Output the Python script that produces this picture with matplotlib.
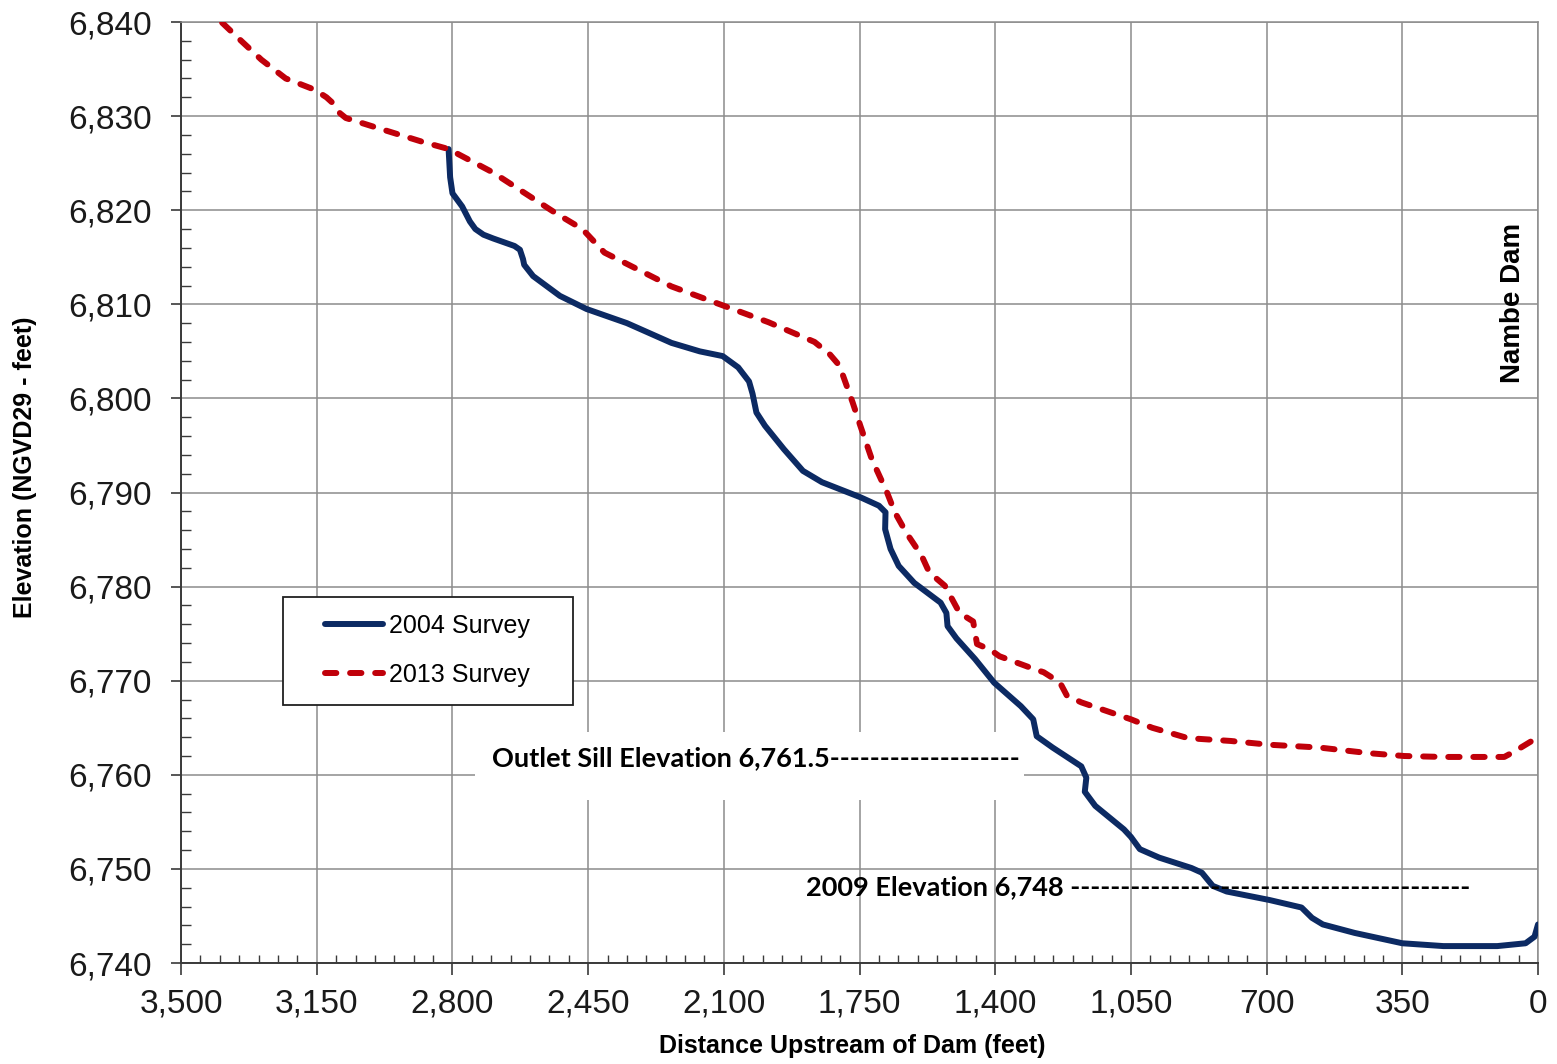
import matplotlib
matplotlib.use("Agg")
import matplotlib.pyplot as plt
from matplotlib.ticker import MultipleLocator, FuncFormatter
from matplotlib.patches import Rectangle
from matplotlib.lines import Line2D

# ---- data (distance upstream of dam in feet, elevation in feet) ----
dist_2004 = [2810, 2806, 2800, 2775, 2755, 2741, 2720, 2695, 2640, 2626, 2618, 2615,
             2592, 2523, 2454, 2350, 2235, 2162, 2103, 2063, 2035, 2026, 2016, 1994,
             1945, 1896, 1847, 1748, 1700, 1683, 1684, 1670, 1649, 1609, 1541, 1526,
             1523, 1500, 1452, 1403, 1334, 1302, 1293, 1252, 1178, 1165, 1169, 1142,
             1068, 1050, 1027, 977, 894, 867, 839, 803, 693, 610, 583, 555, 473, 350,
             244, 105, 32, 9, 0]
elev_2004 = [6826.5, 6823.5, 6821.8, 6820.4, 6818.8, 6818.0, 6817.4, 6817.0, 6816.2,
             6815.8, 6814.8, 6814.2, 6813.0, 6810.9, 6809.5, 6808.0, 6805.9, 6805.0,
             6804.5, 6803.3, 6801.8, 6800.5, 6798.5, 6797.1, 6794.6, 6792.3, 6791.1,
             6789.5, 6788.6, 6787.9, 6786.1, 6784.0, 6782.2, 6780.4, 6778.3, 6777.2,
             6775.8, 6774.5, 6772.3, 6769.8, 6767.3, 6765.9, 6764.1, 6762.9, 6760.9,
             6759.7, 6758.2, 6756.7, 6754.2, 6753.4, 6752.1, 6751.2, 6750.1, 6749.6,
             6748.2, 6747.6, 6746.7, 6745.9, 6744.8, 6744.1, 6743.2, 6742.1, 6741.8,
             6741.8, 6742.1, 6742.8, 6744.1]

dist_2013 = [3440, 3396, 3345, 3293, 3230, 3155, 3125, 3109, 3090, 3075, 2982, 2880,
             2810, 2695, 2534, 2465, 2408, 2235, 2097, 1985, 1866, 1827, 1802, 1768,
             1748, 1718, 1679, 1659, 1629, 1590, 1570, 1530, 1492, 1457, 1447, 1413,
             1389, 1297, 1275, 1233, 1215, 1178, 1050, 995, 903, 793, 694, 564, 436,
             345, 244, 87, 60, 0]
elev_2013 = [6841.8, 6840.0, 6838.0, 6836.0, 6834.0, 6832.8, 6832.0, 6831.4, 6830.3,
             6829.8, 6828.6, 6827.3, 6826.5, 6824.0, 6819.7, 6818.0, 6815.5, 6811.9,
             6809.8, 6808.1, 6806.0, 6804.7, 6803.5, 6799.6, 6797.1, 6793.5, 6790.0,
             6787.9, 6785.7, 6783.3, 6781.5, 6780.1, 6777.2, 6776.3, 6773.9, 6773.3,
             6772.6, 6771.2, 6770.9, 6769.8, 6768.4, 6767.7, 6765.9, 6765.0, 6763.9,
             6763.6, 6763.2, 6762.9, 6762.3, 6762.0, 6761.9, 6761.9, 6762.5, 6764.0]

series_labels = ["2004 Survey", "2013 Survey"]
outlet_label = "Outlet Sill Elevation 6,761.5" + "-" * 19
elev2009_label = "2009 Elevation 6,748 " + "-" * 40
dam_label = "Nambe Dam"
x_label = "Distance Upstream of Dam (feet)"
y_label = "Elevation (NGVD29 - feet)"

BLUE = "#0c2a63"
RED = "#c0000a"
GRID = "#8c8c8c"
ARIAL = "Liberation Sans"
CALIBRI = "Lato"

fig = plt.figure(figsize=(15.57, 10.64), dpi=100)
ax = fig.add_axes([0.1163, 0.0949, 0.8715, 0.8844])

ax.plot(dist_2004, elev_2004, color=BLUE, lw=4.3, solid_capstyle="round",
        solid_joinstyle="round", zorder=3)
ax.plot(dist_2013, elev_2013, color=RED, lw=4.3, dashes=(1.9, 2.3),
        dash_capstyle="round", dash_joinstyle="round", zorder=3)

ax.set_xlim(3500, 0)
ax.set_ylim(6740, 6840)
ax.xaxis.set_major_locator(MultipleLocator(350))
ax.xaxis.set_minor_locator(MultipleLocator(50))
ax.yaxis.set_major_locator(MultipleLocator(10))
ax.yaxis.set_minor_locator(MultipleLocator(2))
fmt = FuncFormatter(lambda v, p: f"{v:,.0f}")
ax.xaxis.set_major_formatter(fmt)
ax.yaxis.set_major_formatter(fmt)

ax.grid(True, which="major", color=GRID, lw=1.1, zorder=0)
ax.set_axisbelow(True)
for s in ["top", "right"]:
    ax.spines[s].set_color(GRID)
    ax.spines[s].set_linewidth(1.1)
for s in ["left", "bottom"]:
    ax.spines[s].set_color("#3a3a3a")
    ax.spines[s].set_linewidth(1.4)

ax.tick_params(axis="y", which="major", direction="out", length=7, width=1.2,
               color="#3a3a3a", pad=14, labelsize=24)
ax.tick_params(axis="y", which="minor", direction="in", length=7, width=1.0,
               color="#3a3a3a")
ax.tick_params(axis="x", which="major", direction="out", length=8.5, width=1.2,
               color="#3a3a3a", pad=10, labelsize=24)
ax.tick_params(axis="x", which="minor", direction="in", length=6, width=1.0,
               color="#3a3a3a")
for lab in ax.get_xticklabels() + ax.get_yticklabels():
    lab.set_fontfamily(ARIAL)
    lab.set_color("#1a1a1a")

ax.set_xlabel(x_label, fontfamily=ARIAL, fontweight="bold", fontsize=18)
ax.set_ylabel(y_label, fontfamily=ARIAL, fontweight="bold", fontsize=18)
ax.xaxis.label.set_va("center")
ax.yaxis.label.set_va("center")
ax.xaxis.set_label_coords(0.4945, -0.0882)
ax.yaxis.set_label_coords(-0.115, 0.527)

# legend (manual frame)
ax.add_patch(Rectangle((0.0752, 0.2742), 0.2137, 0.1147, transform=ax.transAxes,
                       facecolor="white", edgecolor="#202020", lw=1.3, zorder=5))
handles = [Line2D([], [], color=BLUE, lw=4.3, solid_capstyle="round"),
           Line2D([], [], color=RED, lw=4.3, dashes=(1.9, 2.3), dash_capstyle="round")]
leg = ax.legend(handles, series_labels, loc="center left",
                bbox_to_anchor=(0.1061, 0.3326), frameon=False, borderpad=0,
                borderaxespad=0, handlelength=2.3, handletextpad=0.25,
                labelspacing=1.0, prop={"family": ARIAL, "size": 18})
leg.set_zorder(6)

# annotations
ax.add_patch(Rectangle((0.2167, 0.1732), 0.4045, 0.0723, transform=ax.transAxes,
                       facecolor="white", edgecolor="none", zorder=2))
ax.text(0.229, 0.218, outlet_label, transform=ax.transAxes, ha="left", va="center",
        fontfamily=CALIBRI, fontweight="bold", fontsize=19.5, zorder=4)
ax.text(0.4606, 0.0808, elev2009_label, transform=ax.transAxes, ha="left",
        va="center", fontfamily=CALIBRI, fontweight="bold", fontsize=19.5, zorder=4)
ax.text(0.9816, 0.7014, dam_label, transform=ax.transAxes, ha="center", va="center",
        rotation=90, fontfamily=ARIAL, fontweight="bold", fontsize=20, zorder=4)

fig.savefig("out.png", dpi=100)
